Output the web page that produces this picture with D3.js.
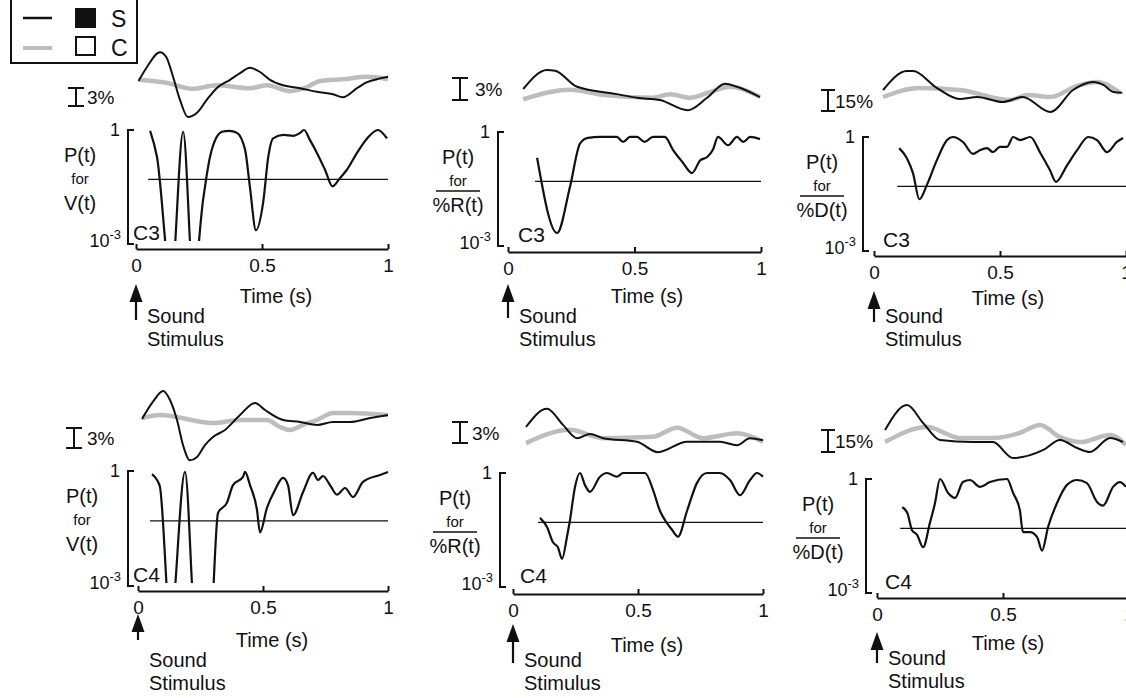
<!DOCTYPE html>
<html>
<head>
<meta charset="utf-8">
<script src="https://cdnjs.cloudflare.com/ajax/libs/d3/7.8.5/d3.min.js"></script>
<style>
	body { margin: 0; background: #fff; }
	svg { display: block; font-family: "Liberation Sans", Arial, sans-serif; }
</style>
</head>
<body>
<div id="chart"></div>
<script>
// shared axis settings
var timeTicks = [0, 0.5, 1];
var pDomain = [1e-3, 1];
var threshold = 0.05;
var channels = ["C3", "C3", "C3", "C4", "C4", "C4"];
var measures = ["V(t)", "%R(t)", "%D(t)", "V(t)", "%R(t)", "%D(t)"];
var barPcts = [3, 3, 15, 3, 3, 15];

// [time (s), change in %] — S (black) and C (gray) traces
var c3V_S = [[0.01,0],[0.043,2.3],[0.095,4.8],[0.12,4.0],[0.147,0.7],[0.175,-3.2],[0.206,-6.0],[0.242,-5.3],[0.28,-3.2],[0.32,-1.2],[0.373,0.2],[0.413,1.3],[0.452,2.2],[0.492,1.5],[0.532,0.2],[0.583,-0.7],[0.651,-1.2],[0.718,-1.8],[0.782,-2.2],[0.821,-2.7],[0.877,-1.2],[0.917,-0.2],[0.956,0.3],[1.0,0.7]];
var c3V_C = [[0.01,0.2],[0.12,-0.3],[0.226,-1.3],[0.32,-0.7],[0.452,-1.2],[0.52,-0.7],[0.611,-1.7],[0.679,-1.0],[0.73,0],[0.821,0.3],[0.917,0.7],[1.0,0.3]];
var c3R_S = [[0.06,0],[0.154,2.6],[0.186,2.5],[0.273,0.3],[0.43,-0.7],[0.51,-1.2],[0.6,-1.5],[0.71,-2.9],[0.787,-1.2],[0.858,0.7],[0.905,0.3],[0.996,-1.1]];
var c3R_C = [[0.06,-1.4],[0.245,-0.1],[0.375,-0.8],[0.573,-1.2],[0.64,-0.7],[0.72,-1.2],[0.8,-0.4],[0.877,0.3],[0.996,-1.1]];
var c3D_S = [[0.036,0],[0.13,13.6],[0.155,13.6],[0.25,1.4],[0.34,-6.4],[0.41,-5],[0.51,-8.6],[0.59,-5],[0.7,-15.7],[0.79,0],[0.87,5.7],[0.91,3.6],[0.95,-1.4],[0.985,-2]];
var c3D_C = [[0.036,-5],[0.18,1.4],[0.34,0],[0.54,-7.1],[0.61,-3.6],[0.7,-5],[0.805,2.9],[0.885,5.7],[0.976,-2]];
var c4V_S = [[0.016,0],[0.06,2.6],[0.1,4.2],[0.128,2.85],[0.156,-0.15],[0.18,-3.9],[0.208,-6.2],[0.236,-5.7],[0.268,-3.9],[0.3,-2.7],[0.348,-1.65],[0.408,0.6],[0.468,2.4],[0.508,1.35],[0.58,-0.15],[0.648,-0.45],[0.716,-0.9],[0.78,-0.45],[0.848,-0.45],[0.928,0.15],[1.0,0.6]];
var c4V_C = [[0.016,0.15],[0.088,0.6],[0.3,-0.6],[0.408,-0.15],[0.516,-0.15],[0.568,-1.2],[0.608,-1.65],[0.668,-0.75],[0.716,-0.15],[0.78,0.9],[0.848,0.9],[1.0,0.6]];
var c4R_S = [[0.052,0],[0.136,2.6],[0.2,0.3],[0.256,-1.6],[0.308,-1.0],[0.36,-1.6],[0.496,-2.1],[0.58,-3.6],[0.696,-2.1],[0.828,-2.1],[0.896,-2.6],[0.948,-1.6],[1.0,-1.9]];
var c4R_C = [[0.052,-2.3],[0.228,-0.4],[0.36,-1.6],[0.56,-1.4],[0.656,-0.1],[0.76,-1.6],[0.896,-0.9],[1.0,-2.1]];
var c4D_S = [[0.032,0],[0.119,17],[0.183,4.8],[0.25,-6.8],[0.38,-8.2],[0.46,-8.2],[0.54,-19.1],[0.66,-13.6],[0.726,-6.8],[0.794,-12.3],[0.845,-15],[0.925,-5.5],[0.976,-8.2]];
var c4D_C = [[0.032,-8.2],[0.198,2],[0.33,-5.5],[0.46,-5.5],[0.567,-2],[0.647,3.4],[0.726,-4.8],[0.806,-8.2],[0.925,-3.4],[0.988,-10.2]];

// [time (s), P(t)] — values under 1e-3 run off the bottom of the plot
var c3V_P = [[0.056,0.95],[0.083,0.2],[0.14,1e-4],[0.187,0.9],[0.228,1e-4],[0.266,0.014],[0.294,0.2],[0.32,0.65],[0.341,0.9],[0.37,0.95],[0.40,0.85],[0.433,0.3],[0.452,0.032],[0.476,0.0023],[0.505,0.013],[0.525,0.2],[0.544,0.6],[0.585,0.74],[0.625,0.7],[0.65,0.83],[0.667,1.0],[0.69,0.55],[0.718,0.25],[0.75,0.09],[0.78,0.033],[0.81,0.055],[0.837,0.09],[0.877,0.25],[0.917,0.6],[0.96,1.0],[0.996,0.6]];
var c3R_P = [[0.115,0.21],[0.194,0.0022],[0.245,0.036],[0.285,0.5],[0.316,0.7],[0.364,0.74],[0.43,0.74],[0.455,0.55],[0.482,0.74],[0.51,0.74],[0.54,0.55],[0.573,0.74],[0.62,0.74],[0.652,0.34],[0.69,0.16],[0.727,0.083],[0.76,0.18],[0.787,0.22],[0.81,0.34],[0.83,0.74],[0.87,0.45],[0.905,0.74],[0.93,0.55],[0.957,0.74],[0.996,0.65]];
var c3D_P = [[0.1,0.51],[0.13,0.28],[0.155,0.11],[0.18,0.023],[0.21,0.055],[0.25,0.25],[0.29,0.83],[0.313,1.0],[0.353,0.74],[0.393,0.36],[0.42,0.45],[0.448,0.51],[0.472,0.4],[0.5,0.55],[0.528,0.55],[0.552,1.0],[0.58,0.83],[0.62,1.0],[0.66,0.38],[0.698,0.135],[0.722,0.066],[0.766,0.18],[0.806,0.45],[0.85,1.0],[0.885,0.83],[0.925,0.4],[0.964,0.74],[0.988,0.94]];
var c4V_P = [[0.056,0.83],[0.076,0.58],[0.088,0.38],[0.13,1e-4],[0.188,0.95],[0.23,1e-4],[0.29,1e-4],[0.32,0.08],[0.356,0.15],[0.38,0.43],[0.42,0.7],[0.428,0.95],[0.448,0.43],[0.476,0.096],[0.488,0.025],[0.516,0.11],[0.548,0.32],[0.58,0.66],[0.6,0.43],[0.62,0.07],[0.66,0.28],[0.7,0.9],[0.72,0.58],[0.74,0.74],[0.768,0.43],[0.796,0.24],[0.828,0.36],[0.86,0.21],[0.9,0.52],[0.968,0.79],[1.0,0.94]];
var c4R_P = [[0.108,0.066],[0.136,0.038],[0.16,0.015],[0.18,0.011],[0.196,0.0055],[0.216,0.021],[0.228,0.058],[0.248,0.43],[0.268,1.0],[0.288,0.48],[0.308,0.32],[0.348,0.8],[0.376,1.0],[0.416,0.8],[0.44,1.0],[0.496,1.0],[0.528,1.0],[0.56,0.36],[0.588,0.1],[0.616,0.048],[0.636,0.032],[0.66,0.021],[0.696,0.1],[0.736,0.55],[0.776,1.0],[0.828,1.0],[0.868,0.65],[0.908,0.26],[0.948,0.65],[0.976,1.0],[1.0,0.8]];
var c4D_P = [[0.1,0.18],[0.12,0.13],[0.139,0.045],[0.159,0.034],[0.183,0.016],[0.21,0.07],[0.23,0.23],[0.25,1.0],[0.282,0.43],[0.31,0.32],[0.341,0.83],[0.369,0.94],[0.409,0.62],[0.448,0.83],[0.516,1.0],[0.54,0.43],[0.567,0.15],[0.579,0.04],[0.607,0.04],[0.635,0.03],[0.655,0.013],[0.679,0.055],[0.714,0.23],[0.754,0.7],[0.794,0.94],[0.833,0.78],[0.873,0.25],[0.897,0.2],[0.937,0.62],[0.964,0.83],[0.988,0.62]];

var width = 1126, height = 698;
var font = "'Liberation Sans', Arial, sans-serif";

var svg = d3.select("#chart").append("svg")
	.attr("width", width)
	.attr("height", height);

// panel placement (pixels)
var layout = [
	{x0: 136, x1: 388, axisY: 249, pTop: 130, pBot: 244, bx: 128, base: 81, pxPerPct: 6, barX: 76, barTop: 88, barLabelX: 87, labelX: 80, cX: 133, arrowTop: 284, arrowBot: 320, timeX: 276, timeY: 303, soundY: 323},
	{x0: 508, x1: 761, axisY: 252, pTop: 132, pBot: 246, bx: 498, base: 89, pxPerPct: 7.33, barX: 460, barTop: 78, barLabelX: 475, labelX: 458, cX: 518, arrowTop: 284, arrowBot: 318, timeX: 647, timeY: 303, soundY: 323},
	{x0: 874, x1: 1126, axisY: 256, pTop: 137, pBot: 251, bx: 863, base: 90, pxPerPct: 1.4, barX: 828, barTop: 90, barLabelX: 835, labelX: 822, cX: 883, arrowTop: 291, arrowBot: 322, timeX: 1008, timeY: 305, soundY: 323},
	{x0: 138, x1: 388, axisY: 591, pTop: 471, pBot: 586, bx: 128, base: 419, pxPerPct: 6.67, barX: 74, barTop: 428, barLabelX: 87, labelX: 82, cX: 133, arrowTop: 614, arrowBot: 640, timeX: 272, timeY: 647, soundY: 667},
	{x0: 513, x1: 763, axisY: 594, pTop: 473, pBot: 587, bx: 500, base: 427, pxPerPct: 7, barX: 460, barTop: 422, barLabelX: 472, labelX: 455, cX: 520, arrowTop: 624, arrowBot: 663, timeX: 647, timeY: 652, soundY: 667},
	{x0: 877, x1: 1129, axisY: 598, pTop: 479, pBot: 593, bx: 866, base: 430, pxPerPct: 1.467, barX: 828, barTop: 430, barLabelX: 835, labelX: 818, cX: 885, arrowTop: 632, arrowBot: 663, timeX: 1008, timeY: 650, soundY: 665}
];

var traceS = [c3V_S, c3R_S, c3D_S, c4V_S, c4R_S, c4D_S];
var traceC = [c3V_C, c3R_C, c3D_C, c4V_C, c4R_C, c4D_C];
var traceP = [c3V_P, c3R_P, c3D_P, c4V_P, c4R_P, c4D_P];

var defs = svg.append("defs");

function renderPanel(i) {
	var p = layout[i];
	var g = svg.append("g");

	var x = d3.scaleLinear().domain([0, 1]).range([p.x0, p.x1]);
	var y = d3.scaleLog().domain(pDomain).range([p.pBot, p.pTop]);
	var yTrace = d3.scaleLinear().domain([0, 10]).range([p.base, p.base - 10 * p.pxPerPct]);

	var traceLine = d3.line()
		.x(d => x(d[0]))
		.y(d => yTrace(d[1]))
		.curve(d3.curveMonotoneX);
	var pLine = d3.line()
		.x(d => x(d[0]))
		.y(d => y(d[1]))
		.curve(d3.curveMonotoneX);

	defs.append("clipPath")
		.attr("id", "clip" + i)
		.append("rect")
		.attr("x", p.x0 - 5)
		.attr("y", p.pTop - 10)
		.attr("width", p.x1 - p.x0 + 10)
		.attr("height", p.pBot - p.pTop + 7);

	// top traces: C (gray) under S (black)
	g.append("path")
		.attr("d", traceLine(traceC[i]))
		.attr("fill", "none")
		.attr("stroke", "#bdbdbd")
		.attr("stroke-width", 4.5);
	g.append("path")
		.attr("d", traceLine(traceS[i]))
		.attr("fill", "none")
		.attr("stroke", "#111")
		.attr("stroke-width", 2);

	// scale bar
	var barLen = Math.abs(yTrace(barPcts[i]) - yTrace(0));
	var barW = barPcts[i] > 9 ? 7 : 8;
	g.append("path")
		.attr("d", `M${p.barX - barW},${p.barTop}H${p.barX + barW}M${p.barX},${p.barTop}V${p.barTop + barLen}M${p.barX - barW},${p.barTop + barLen}H${p.barX + barW}`)
		.attr("fill", "none")
		.attr("stroke", "#111")
		.attr("stroke-width", 2);
	g.append("text")
		.attr("x", p.barLabelX)
		.attr("y", p.barTop + barLen / 2 + 7)
		.attr("font-size", 19)
		.text(barPcts[i] + "%");

	// y bracket
	g.append("path")
		.attr("d", `M${p.bx + 6},${p.pTop}H${p.bx}V${p.pBot}H${p.bx + 6}`)
		.attr("fill", "none")
		.attr("stroke", "#111")
		.attr("stroke-width", 2);
	g.append("text")
		.attr("x", p.bx - 8)
		.attr("y", p.pTop + 6)
		.attr("text-anchor", "end")
		.attr("font-size", 18)
		.text("1");
	var low = g.append("text")
		.attr("x", p.bx - 7)
		.attr("y", p.pBot + 3)
		.attr("text-anchor", "end")
		.attr("font-size", 18);
	low.append("tspan").text("10");
	low.append("tspan").attr("dy", -8).attr("font-size", 13).text("-3");

	// y label
	var yl = [p.pTop + 32, p.pTop + 54, p.pTop + 80];
	g.append("text").attr("x", p.labelX).attr("y", yl[0]).attr("text-anchor", "middle").attr("font-size", 20).text("P(t)");
	g.append("text").attr("x", p.labelX).attr("y", yl[1]).attr("text-anchor", "middle").attr("font-size", 15).text("for");
	g.append("text").attr("x", p.labelX).attr("y", yl[2]).attr("text-anchor", "middle").attr("font-size", 20).text(measures[i]);
	if (measures[i] !== "V(t)") {
		g.append("line")
			.attr("x1", p.labelX - 22).attr("x2", p.labelX + 22)
			.attr("y1", p.pTop + 59).attr("y2", p.pTop + 59)
			.attr("stroke", "#111").attr("stroke-width", 1.5);
	}

	g.append("text")
		.attr("x", p.cX)
		.attr("y", p.pBot - 4)
		.attr("font-size", 21)
		.text(channels[i]);

	// threshold line
	var pts = traceP[i];
	g.append("line")
		.attr("x1", x(pts[0][0]) - 2).attr("x2", p.x1)
		.attr("y1", y(threshold)).attr("y2", y(threshold))
		.attr("stroke", "#111")
		.attr("stroke-width", 1.2);

	g.append("path")
		.attr("d", pLine(pts))
		.attr("clip-path", `url(#clip${i})`)
		.attr("fill", "none")
		.attr("stroke", "#111")
		.attr("stroke-width", 2.2)
		.attr("stroke-linejoin", "round");

	// time axis
	var xAxis = d3.axisBottom(x)
		.tickValues(timeTicks)
		.tickSize(-5)
		.tickSizeOuter(0)
		.tickPadding(10)
		.tickFormat(d3.format(""));
	g.append("g")
		.attr("transform", `translate(0,${p.axisY})`)
		.call(xAxis)
		.attr("font-size", 19)
		.attr("font-family", font)
		.call(a => a.select(".domain").attr("stroke-width", 2).attr("stroke", "#111"))
		.call(a => a.selectAll(".tick line").attr("stroke-width", 2).attr("stroke", "#111"))
		.call(a => a.selectAll(".tick text").attr("fill", "#111"));

	g.append("text")
		.attr("x", p.timeX)
		.attr("y", p.timeY)
		.attr("text-anchor", "middle")
		.attr("font-size", 20)
		.text("Time (s)");

	// stimulus arrow
	g.append("line")
		.attr("x1", p.x0).attr("x2", p.x0)
		.attr("y1", p.arrowTop + 12).attr("y2", p.arrowBot)
		.attr("stroke", "#111")
		.attr("stroke-width", 2.2);
	g.append("path")
		.attr("d", `M${p.x0},${p.arrowTop}L${p.x0 - 6.5},${p.arrowTop + 18}L${p.x0 + 6.5},${p.arrowTop + 18}Z`)
		.attr("fill", "#111");
	g.append("text").attr("x", p.x0 + 11).attr("y", p.soundY).attr("font-size", 20).text("Sound");
	g.append("text").attr("x", p.x0 + 11).attr("y", p.soundY + 23).attr("font-size", 20).text("Stimulus");
}

function renderLegend() {
	var lg = svg.append("g");
	lg.append("rect")
		.attr("x", 11).attr("y", -4)
		.attr("width", 126).attr("height", 67)
		.attr("fill", "#fff")
		.attr("stroke", "#111")
		.attr("stroke-width", 2);
	lg.append("line").attr("x1", 23).attr("x2", 52).attr("y1", 18).attr("y2", 18)
		.attr("stroke", "#111").attr("stroke-width", 2.5);
	lg.append("line").attr("x1", 23).attr("x2", 52).attr("y1", 48).attr("y2", 48)
		.attr("stroke", "#bdbdbd").attr("stroke-width", 4);
	lg.append("rect").attr("x", 75).attr("y", 8).attr("width", 21).attr("height", 20).attr("fill", "#111");
	lg.append("rect").attr("x", 76).attr("y", 37).attr("width", 19).attr("height", 18)
		.attr("fill", "#fff").attr("stroke", "#111").attr("stroke-width", 2);
	lg.append("text").attr("x", 111).attr("y", 27).attr("font-size", 23).text("S");
	lg.append("text").attr("x", 111).attr("y", 56).attr("font-size", 23).text("C");
}

svg.attr("font-family", font).attr("fill", "#111");
for (var i = 0; i < layout.length; i++) {
	renderPanel(i);
}
renderLegend();
</script>
</body>
</html>
